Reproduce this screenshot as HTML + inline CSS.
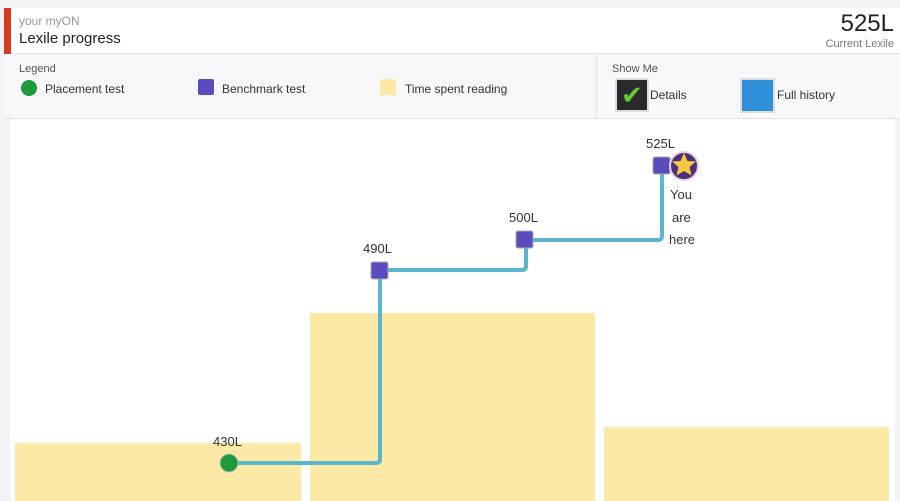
<!DOCTYPE html>
<html><head><style>
body{margin:0;width:900px;height:501px;background:#f3f3f5;font-family:"Liberation Sans",sans-serif;position:relative;overflow:hidden}
.a{position:absolute}
</style></head><body>
<div class="a" style="left:4px;top:8px;width:896px;height:45px;background:#fff;border-bottom:1px solid #e2e2e2"></div>
<div class="a" style="left:4px;top:8px;width:7px;height:46px;background:#d93a1f"></div>
<div class="a" style="left:19px;top:14px;font-size:12px;color:#999">your myON</div>
<div class="a" style="left:19px;top:30px;font-size:15px;color:#222">Lexile progress</div>
<div class="a" style="right:6px;top:10px;font-size:24px;color:#222">525L</div>
<div class="a" style="right:6px;top:38px;font-size:11px;color:#777">Current Lexile</div>
<div class="a" style="left:4px;top:54px;width:896px;height:64px;background:#f8f8fa;border-bottom:1px solid #e2e2e2"></div>
<div class="a" style="left:596px;top:54px;width:1px;height:64px;background:#e2e2e2"></div>
<div class="a" style="left:19px;top:63px;font-size:11px;color:#555">Legend</div>
<div class="a" style="left:21px;top:80px;width:16px;height:16px;border-radius:50%;background:#1e9a3a"></div>
<div class="a" style="left:45px;top:82px;font-size:12px;color:#333">Placement test</div>
<div class="a" style="left:198px;top:79px;width:16px;height:16px;border-radius:2px;background:#5a4bbf"></div>
<div class="a" style="left:222px;top:82px;font-size:12px;color:#333">Benchmark test</div>
<div class="a" style="left:380px;top:79px;width:16px;height:16px;background:#fde9a6"></div>
<div class="a" style="left:405px;top:82px;font-size:12px;color:#333">Time spent reading</div>
<div class="a" style="left:612px;top:63px;font-size:11px;color:#555">Show Me</div>
<div class="a" style="left:615px;top:78px;width:30px;height:30px;background:#2a2a2a;border:2px solid #ddd;color:#6c3;font-size:26px;line-height:30px;text-align:center">✔</div>
<div class="a" style="left:650px;top:88px;font-size:12px;color:#333">Details</div>
<div class="a" style="left:740px;top:78px;width:31px;height:31px;background:#2f8fd8;border:2px solid #ddd"></div>
<div class="a" style="left:777px;top:88px;font-size:12px;color:#333">Full history</div>
<div class="a" style="left:10px;top:119px;width:885px;height:382px;background:#fff"></div>
<div class="a" style="left:15px;top:443px;width:286px;height:58px;background:#fde9a6"></div>
<div class="a" style="left:310px;top:313px;width:285px;height:188px;background:#fde9a6"></div>
<div class="a" style="left:604px;top:427px;width:285px;height:74px;background:#fde9a6"></div>
<svg class="a" style="left:0;top:0" width="900" height="501">
<path d="M229 463 H376 Q380 463 380 459 V274 Q380 270 384 270 H522 Q526 270 526 266 V244 Q526 240 530 240 H658 Q662 240 662 236 V165" fill="none" stroke="#5bb5cc" stroke-width="4"/>
<circle cx="229" cy="463" r="9" fill="#1e9a3a" stroke="#bbb" stroke-width="1"/>
<rect x="371" y="262" width="17" height="17" rx="2" fill="#5a4bbf" stroke="#aaa"/>
<rect x="516" y="231" width="17" height="17" rx="2" fill="#5a4bbf" stroke="#aaa"/>
<rect x="653" y="157" width="17" height="17" rx="2" fill="#5a4bbf" stroke="#aaa"/>
<circle cx="684" cy="166" r="14" fill="#4a2f7a" stroke="#e6d0e6" stroke-width="2"/>
<polygon points="684,153 687.5,161 696,161.5 689.5,167 691.5,175.5 684,171 676.5,175.5 678.5,167 672,161.5 680.5,161" fill="#f5c842"/>
<g font-family="Liberation Sans,sans-serif" font-size="13" fill="#333">
<text x="213" y="446">430L</text><text x="363" y="253">490L</text><text x="509" y="222">500L</text><text x="646" y="148">525L</text>
<text x="670" y="199">You</text><text x="672" y="222">are</text><text x="669" y="244">here</text></g>
</svg>
</body></html>
